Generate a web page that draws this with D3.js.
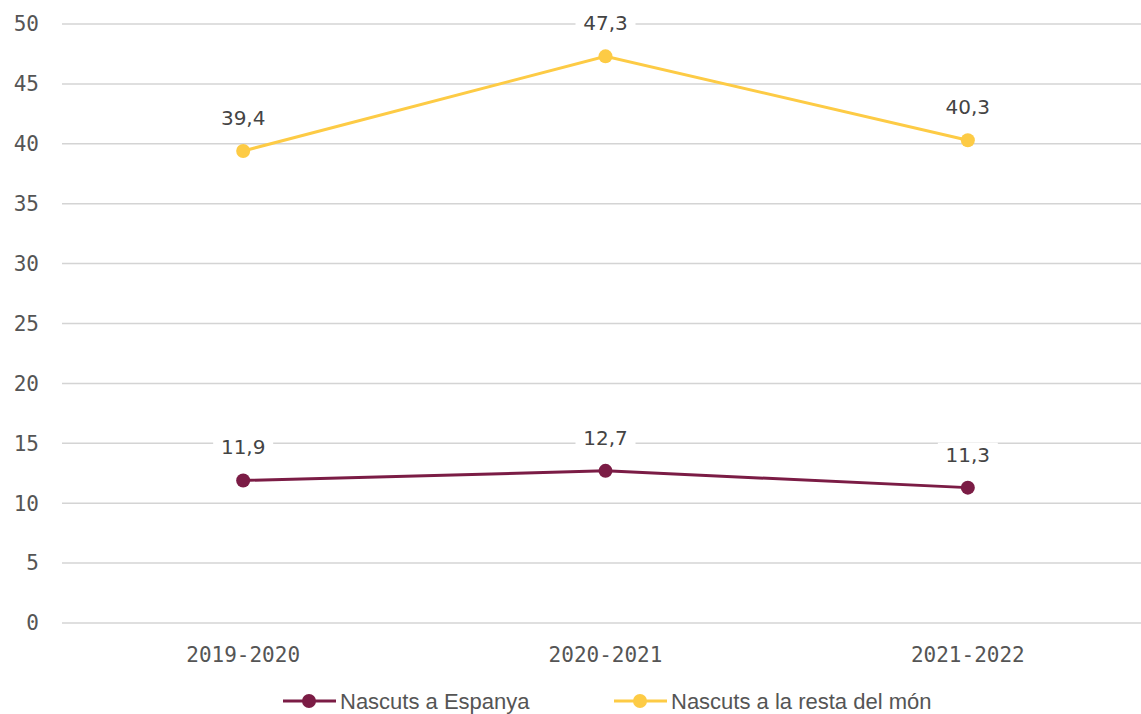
<!DOCTYPE html>
<html>
<head>
<meta charset="utf-8">
<script src="https://cdn.jsdelivr.net/npm/d3@7"></script>
<style>
  body { margin: 0; background: #fff; }
  svg { display: block; font-family: "Liberation Sans", Arial, sans-serif; }
</style>
</head>
<body>
<div id="app"></div>
<script>
// data
var categories = ['2019-2020', '2020-2021', '2021-2022'];
var espanya = [11.9, 12.7, 11.3];
var restaMon = [39.4, 47.3, 40.3];
var yTicks = [0, 5, 10, 15, 20, 25, 30, 35, 40, 45, 50];
var seriesNames = ['Nascuts a Espanya', 'Nascuts a la resta del món'];
var colors = ['#7b1c45', '#fdcb45'];

var width = 1141,
  height = 714;

var svg = d3.select('#app')
  .append('svg')
  .attr('width', width)
  .attr('height', height);

var xScale = d3.scaleBand()
  .domain(categories)
  .range([62, 1149]);

var yScale = d3.scaleLinear()
  .domain([0, 50])
  .range([623, 24]);

// grid
svg.append('g')
  .selectAll('line')
  .data(yTicks)
  .enter()
  .append('line')
  .attr('x1', 62)
  .attr('x2', width)
  .attr('y1', function (d) { return yScale(d); })
  .attr('y2', function (d) { return yScale(d); })
  .attr('stroke', '#d4d4d4')
  .attr('stroke-width', 1.5);

// y labels
svg.append('g')
  .selectAll('text')
  .data(yTicks)
  .enter()
  .append('text')
  .attr('x', 39)
  .attr('y', function (d) { return yScale(d); })
  .attr('dy', '0.35em')
  .attr('text-anchor', 'end')
  .attr('fill', '#555')
  .style('font-family', '"DejaVu Sans Mono", monospace')
  .style('font-size', '21px')
  .text(function (d) { return d; });

// x labels
svg.append('g')
  .selectAll('text')
  .data(categories)
  .enter()
  .append('text')
  .attr('x', function (d) { return xScale(d) + xScale.bandwidth() / 2; })
  .attr('y', 655)
  .attr('dy', '0.35em')
  .attr('text-anchor', 'middle')
  .attr('fill', '#555')
  .style('font-family', '"DejaVu Sans Mono", monospace')
  .style('font-size', '21px')
  .text(function (d) { return d; });

var cx = function (d, i) { return xScale(categories[i]) + xScale.bandwidth() / 2; };
var line = d3.line()
  .x(cx)
  .y(function (d) { return yScale(d); });

[espanya, restaMon].forEach(function (vals, s) {
  var g = svg.append('g');
  g.append('path')
    .datum(vals)
    .attr('d', line)
    .attr('fill', 'none')
    .attr('stroke', colors[s])
    .attr('stroke-width', 3);
  g.selectAll('circle')
    .data(vals)
    .enter()
    .append('circle')
    .attr('cx', cx)
    .attr('cy', function (d) { return yScale(d); })
    .attr('r', 7)
    .attr('fill', colors[s]);

  var lab = g.selectAll('g.lab')
    .data(vals)
    .enter()
    .append('g')
    .attr('class', 'lab')
    .attr('transform', function (d, i) {
      return 'translate(' + cx(d, i) + ',' + (yScale(d) - 33) + ')';
    });
  lab.append('rect')
    .attr('x', -30)
    .attr('y', -12)
    .attr('width', 60)
    .attr('height', 24)
    .attr('fill', '#fff');
  lab.append('text')
    .attr('dy', '0.35em')
    .attr('text-anchor', 'middle')
    .attr('fill', '#444')
    .style('font-family', '"DejaVu Sans", sans-serif')
    .style('font-size', '20px')
    .text(function (d) { return String(d).replace('.', ','); });
});

// legend
var legendX = [283, 614];
var legend = svg.append('g');
seriesNames.forEach(function (name, i) {
  var lg = legend.append('g').attr('transform', 'translate(' + legendX[i] + ',701)');
  lg.append('line')
    .attr('x1', 0).attr('x2', 53)
    .attr('stroke', colors[i])
    .attr('stroke-width', 3);
  lg.append('circle')
    .attr('cx', 26)
    .attr('r', 7)
    .attr('fill', colors[i]);
  lg.append('text')
    .attr('x', 57)
    .attr('dy', '0.35em')
    .attr('fill', '#555')
    .style('font-size', '22px')
    .text(name);
});
</script>
</body>
</html>
